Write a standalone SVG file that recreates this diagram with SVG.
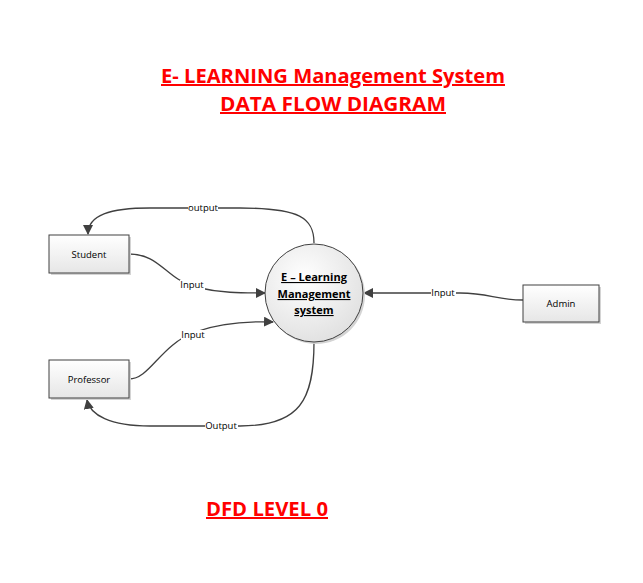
<svg xmlns="http://www.w3.org/2000/svg" width="643" height="583" viewBox="0 0 643 583">
<style>
.title{font-family:"Open Sans","Liberation Sans",sans-serif;font-weight:bold;fill:#ff0000;text-decoration:underline;text-anchor:middle}
.box{fill:url(#boxg);stroke:#404040;stroke-width:1}
.shadow{fill:#d4d4d4}
.lbl{font-family:"Open Sans","Liberation Sans",sans-serif;font-size:9.5px;fill:#000;text-anchor:middle}
.conn{fill:none;stroke:#404040;stroke-width:1.3}
.lblbg{fill:#fff}
.ctext{font-family:"Open Sans","Liberation Sans",sans-serif;font-size:11px;font-weight:bold;fill:#000;text-anchor:middle;text-decoration:underline}
</style>
<defs>
<linearGradient id="boxg" x1="0" y1="0" x2="0" y2="1">
<stop offset="0" stop-color="#ffffff"/>
<stop offset="1" stop-color="#e6e6e6"/>
</linearGradient>
<radialGradient id="circg" cx="0.4" cy="0.35" r="0.7">
<stop offset="0" stop-color="#ffffff"/>
<stop offset="1" stop-color="#e0e0e0"/>
</radialGradient>
<marker id="arr" viewBox="0 0 10 10" refX="9" refY="5" markerWidth="10" markerHeight="10" markerUnits="userSpaceOnUse" orient="auto">
<path d="M0,0 L10,5 L0,10 z" fill="#404040"/>
</marker>
</defs>
<rect width="643" height="583" fill="#fff"/>
<text class="title" x="333" y="83" font-size="20" textLength="344" lengthAdjust="spacingAndGlyphs">E- LEARNING Management System</text>
<text class="title" x="333" y="111" font-size="20" textLength="226" lengthAdjust="spacingAndGlyphs">DATA FLOW DIAGRAM</text>
<g id="connectors">
<path class="conn" marker-end="url(#arr)" d="M314,243 C314,218 300,208 240,208 L150,208 C110,208 88,215 88,234"/>
<path class="conn" marker-end="url(#arr)" d="M129,254 C160,254 165,278 195,287 C220,293 240,293 265,293"/>
<path class="conn" marker-end="url(#arr)" d="M129,379 C150,379 160,345 195,332 C220,323 245,321 273,322"/>
<path class="conn" marker-end="url(#arr)" d="M314,342 C314,400 300,426 240,426 L150,426 C110,426 90,415 87,400"/>
<path class="conn" marker-end="url(#arr)" d="M523,300 C495,300 490,293 460,293 L364,293"/>
<rect class="lblbg" x="188" y="203" width="30" height="10"/>
<text class="lbl" x="203" y="211">output</text>
<rect class="lblbg" x="180" y="280" width="25" height="10"/>
<text class="lbl" x="192" y="288">Input</text>
<rect class="lblbg" x="181" y="330" width="25" height="10"/>
<text class="lbl" x="193" y="338">Input</text>
<rect class="lblbg" x="205" y="421" width="33" height="10"/>
<text class="lbl" x="221" y="429">Output</text>
<rect class="lblbg" x="431" y="288" width="25" height="10"/>
<text class="lbl" x="443" y="296">Input</text>
</g>
<g id="student">
<rect class="shadow" x="51" y="237" width="80" height="38"/>
<rect class="box" x="49" y="235" width="80" height="38"/>
<text class="lbl" x="89" y="258">Student</text>
</g>
<g id="professor">
<rect class="shadow" x="51" y="362" width="80" height="38"/>
<rect class="box" x="49" y="360" width="80" height="38"/>
<text class="lbl" x="89" y="383">Professor</text>
</g>
<g id="admin">
<rect class="shadow" x="525" y="287" width="76" height="37"/>
<rect class="box" x="523" y="285" width="76" height="37"/>
<text class="lbl" x="561" y="307">Admin</text>
</g>
<g id="elms">
<circle cx="316" cy="295" r="49" fill="#d4d4d4"/>
<circle cx="314" cy="293" r="49" fill="url(#circg)" stroke="#404040" stroke-width="1"/>
<text class="ctext" x="314" y="281">E – Learning</text>
<text class="ctext" x="314" y="298">Management</text>
<text class="ctext" x="314" y="314">system</text>
</g>
<text class="title" x="267" y="516" font-size="20" textLength="122" lengthAdjust="spacingAndGlyphs">DFD LEVEL 0</text>
</svg>
